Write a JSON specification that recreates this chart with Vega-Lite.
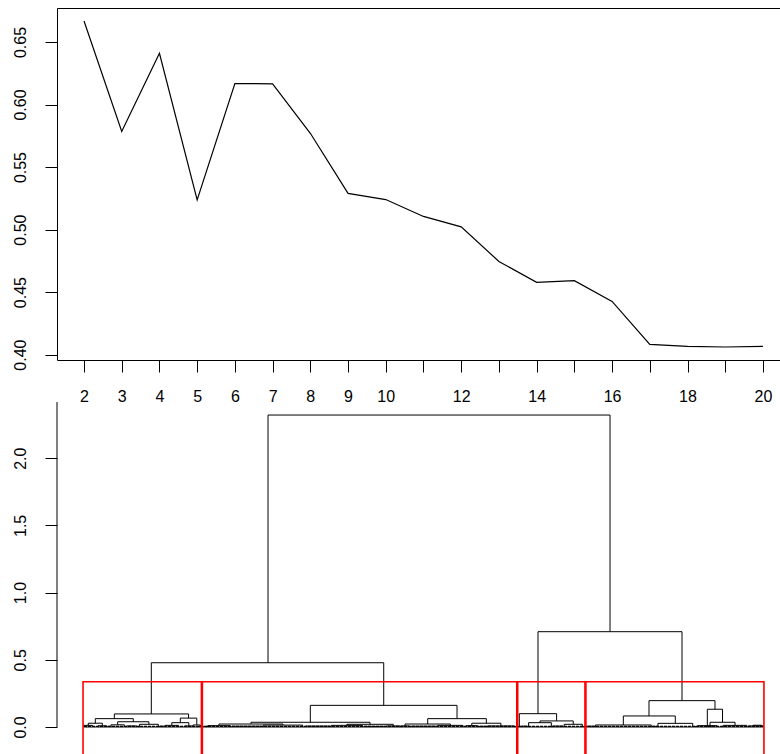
{
 "$schema": "https://vega.github.io/schema/vega-lite/v6.json",
 "padding": {"left": 12, "top": 8, "right": 0, "bottom": 0},
 "spacing": 42,
 "bounds": "flush",
 "config": {
  "view": {"stroke": null},
  "axis": {"labelFont": "Liberation Sans", "labelFontSize": 16, "labelColor": "#000", "tickColor": "#000", "domainColor": "#000", "tickSize": 12, "grid": false, "title": null, "tickWidth": 1, "domainWidth": 1}
 },
 "datasets": {
  "sil": [
   {"k": 2, "silhouette": 0.6668}, {"k": 3, "silhouette": 0.5784}, {"k": 4, "silhouette": 0.641},
   {"k": 5, "silhouette": 0.5238}, {"k": 6, "silhouette": 0.6167}, {"k": 7, "silhouette": 0.6166},
   {"k": 8, "silhouette": 0.577}, {"k": 9, "silhouette": 0.5289}, {"k": 10, "silhouette": 0.524},
   {"k": 11, "silhouette": 0.5105}, {"k": 12, "silhouette": 0.5022}, {"k": 13, "silhouette": 0.4745},
   {"k": 14, "silhouette": 0.4578}, {"k": 15, "silhouette": 0.4591}, {"k": 16, "silhouette": 0.4426},
   {"k": 17, "silhouette": 0.4082}, {"k": 18, "silhouette": 0.4066}, {"k": 19, "silhouette": 0.4061},
   {"k": 20, "silhouette": 0.4066}
  ],
  "merges": [
   {"xl": 65.77, "xr": 186.15, "h": 2.321, "hl": 0.478, "hr": 0.709},
   {"xl": 24.69, "xr": 106.5, "h": 0.478, "hl": 0.097, "hr": 0.161},
   {"xl": 160.8, "xr": 211.49, "h": 0.709, "hl": 0.099, "hr": 0.196},
   {"xl": 11.67, "xr": 37.8, "h": 0.097, "hl": 0.062, "hr": 0.066},
   {"xl": 4.98, "xr": 18.35, "h": 0.062, "hl": 0.028, "hr": 0.039},
   {"xl": 2.5, "xr": 7.46, "h": 0.028, "hl": 0.012, "hr": 0.009},
   {"xl": 12.86, "xr": 23.84, "h": 0.039, "hl": 0.016, "hr": 0.02},
   {"xl": 34.9, "xr": 40.7, "h": 0.066, "hl": 0.032, "hr": 0.015},
   {"xl": 31.9, "xr": 37.9, "h": 0.032, "hl": 0.012, "hr": 0.008},
   {"xl": 39.4, "xr": 42.0, "h": 0.015, "hl": 0, "hr": 0.008},
   {"xl": 1, "xr": 4, "h": 0.012, "hl": 0, "hr": 0},
   {"xl": 5.92, "xr": 9, "h": 0.009, "hl": 0, "hr": 0},
   {"xl": 9.4, "xr": 10.2, "h": 0.005, "hl": 0, "hr": 0},
   {"xl": 10.5, "xr": 15.22, "h": 0.016, "hl": 0, "hr": 0},
   {"xl": 16, "xr": 19.5, "h": 0.008, "hl": 0, "hr": 0},
   {"xl": 20.5, "xr": 27.18, "h": 0.02, "hl": 0, "hr": 0},
   {"xl": 27.6, "xr": 29.2, "h": 0.006, "hl": 0, "hr": 0},
   {"xl": 29.5, "xr": 34.3, "h": 0.012, "hl": 0, "hr": 0},
   {"xl": 36.5, "xr": 39.3, "h": 0.008, "hl": 0, "hr": 0},
   {"xl": 41.6, "xr": 42.3, "h": 0.008, "hl": 0, "hr": 0},
   {"xl": 80.66, "xr": 132.3, "h": 0.161, "hl": 0.035, "hr": 0.062},
   {"xl": 59.78, "xr": 101.67, "h": 0.035, "hl": 0.022, "hr": 0.02},
   {"xl": 48.5, "xr": 71.06, "h": 0.022, "hl": 0.01, "hr": 0.014},
   {"xl": 93.5, "xr": 109.84, "h": 0.02, "hl": 0.012, "hr": 0.008},
   {"xl": 121.98, "xr": 142.62, "h": 0.062, "hl": 0.022, "hr": 0.028},
   {"xl": 114.0, "xr": 129.96, "h": 0.022, "hl": 0.008, "hr": 0.012},
   {"xl": 137.5, "xr": 147.74, "h": 0.028, "hl": 0.01, "hr": 0.008},
   {"xl": 43, "xr": 44.3, "h": 0.004, "hl": 0, "hr": 0},
   {"xl": 44.5, "xr": 52.5, "h": 0.01, "hl": 0, "hr": 0},
   {"xl": 53, "xr": 63.5, "h": 0.006, "hl": 0, "hr": 0},
   {"xl": 64.12, "xr": 78, "h": 0.014, "hl": 0, "hr": 0},
   {"xl": 79, "xr": 87.5, "h": 0.007, "hl": 0, "hr": 0},
   {"xl": 88, "xr": 99, "h": 0.012, "hl": 0, "hr": 0},
   {"xl": 99.5, "xr": 107, "h": 0.005, "hl": 0, "hr": 0},
   {"xl": 107.5, "xr": 112.18, "h": 0.008, "hl": 0, "hr": 0},
   {"xl": 112.5, "xr": 115.5, "h": 0.008, "hl": 0, "hr": 0},
   {"xl": 116, "xr": 125, "h": 0.006, "hl": 0, "hr": 0},
   {"xl": 125.5, "xr": 134.42, "h": 0.012, "hl": 0, "hr": 0},
   {"xl": 135.5, "xr": 139.5, "h": 0.01, "hl": 0, "hr": 0},
   {"xl": 139.8, "xr": 142.8, "h": 0.005, "hl": 0, "hr": 0},
   {"xl": 143, "xr": 152.48, "h": 0.008, "hl": 0, "hr": 0},
   {"xl": 152.8, "xr": 153.3, "h": 0.004, "hl": 0, "hr": 0},
   {"xl": 154.22, "xr": 167.35, "h": 0.099, "hl": 0.004, "hr": 0.045},
   {"xl": 161.5, "xr": 173.2, "h": 0.045, "hl": 0.032, "hr": 0.02},
   {"xl": 153.8, "xr": 154.64, "h": 0.004, "hl": 0, "hr": 0},
   {"xl": 155, "xr": 157.2, "h": 0.006, "hl": 0, "hr": 0},
   {"xl": 157.5, "xr": 165.5, "h": 0.032, "hl": 0, "hr": 0},
   {"xl": 166, "xr": 169.6, "h": 0.007, "hl": 0, "hr": 0},
   {"xl": 170, "xr": 176.4, "h": 0.02, "hl": 0, "hr": 0},
   {"xl": 176.7, "xr": 177.2, "h": 0.004, "hl": 0, "hr": 0},
   {"xl": 199.87, "xr": 223.1, "h": 0.196, "hl": 0.082, "hr": 0.132},
   {"xl": 190.83, "xr": 209.13, "h": 0.082, "hl": 0.015, "hr": 0.027},
   {"xl": 220.4, "xr": 225.75, "h": 0.132, "hl": 0.01, "hr": 0.035},
   {"xl": 221.35, "xr": 230.15, "h": 0.035, "hl": 0.006, "hr": 0.012},
   {"xl": 178, "xr": 180.5, "h": 0.006, "hl": 0, "hr": 0},
   {"xl": 181, "xr": 200.66, "h": 0.015, "hl": 0, "hr": 0},
   {"xl": 201, "xr": 202.6, "h": 0.005, "hl": 0, "hr": 0},
   {"xl": 203, "xr": 215.26, "h": 0.027, "hl": 0, "hr": 0},
   {"xl": 215.8, "xr": 216.8, "h": 0.004, "hl": 0, "hr": 0},
   {"xl": 217, "xr": 223.8, "h": 0.01, "hl": 0, "hr": 0},
   {"xl": 220.5, "xr": 222.2, "h": 0.006, "hl": 0, "hr": 0},
   {"xl": 226, "xr": 234.3, "h": 0.012, "hl": 0, "hr": 0},
   {"xl": 234.8, "xr": 240, "h": 0.008, "hl": 0, "hr": 0},
   {"xl": 236.5, "xr": 239.5, "h": 0.013, "hl": 0, "hr": 0}
  ],
  "leaves": [
   {"from": 1, "to": 240, "h": 0.005, "dash": "a"},
   {"from": 1, "to": 240, "h": 0.0, "dash": "b"}
  ],
  "clusters": [
   {"left": 0.66, "right": 42.33, "low": -0.5, "high": 0.337},
   {"left": 42.66, "right": 153.33, "low": -0.5, "high": 0.337},
   {"left": 153.66, "right": 177.33, "low": -0.5, "high": 0.337},
   {"left": 177.66, "right": 240.33, "low": -0.5, "high": 0.337}
  ],
  "axisline": [{"from": 0, "to": 2.418}]
 },
 "vconcat": [
  {
   "width": 723, "height": 352,
   "data": {"name": "sil"},
   "layer": [
    {
     "mark": {"type": "line", "color": "#000", "strokeWidth": 1.2},
     "encoding": {
      "x": {"field": "k", "type": "quantitative",
            "scale": {"domain": [1.284, 20.452], "nice": false, "zero": false},
            "axis": {"orient": "bottom", "values": [2,3,4,5,6,7,8,9,10,11,12,13,14,15,16,17,18,19,20],
                     "labelExpr": "indexof([11,13,15,17,19], datum.value) >= 0 ? '' : datum.label",
                     "labelAngle": 0, "labelPadding": 16, "labelFlush": false, "labelOverlap": false}},
      "y": {"field": "silhouette", "type": "quantitative",
            "scale": {"domain": [0.3957, 0.6772], "nice": false, "zero": false},
            "axis": {"values": [0.4, 0.45, 0.5, 0.55, 0.6, 0.65], "format": ".2f",
                     "labelAngle": -90, "labelAlign": "center", "labelBaseline": "bottom",
                     "labelPadding": 17, "labelFlush": false, "labelOverlap": false}}
     }
    },
    {
     "mark": {"type": "line", "opacity": 0},
     "encoding": {
      "x": {"field": "k", "type": "quantitative",
            "axis": {"orient": "top", "labels": false, "ticks": false}},
      "y": {"field": "silhouette", "type": "quantitative"}
     }
    }
   ],
   "resolve": {"axis": {"x": "independent"}}
  },
  {
   "width": 723, "height": 352,
   "layer": [
    {
     "data": {"name": "merges"},
     "mark": {"type": "rule", "color": "#000", "strokeWidth": 1},
     "encoding": {
      "x": {"field": "xl", "type": "quantitative",
            "scale": {"domain": [-8.504, 245.98], "nice": false, "zero": false}, "axis": null},
      "x2": {"field": "xr"},
      "y": {"field": "h", "type": "quantitative",
            "scale": {"domain": [-0.201, 2.418], "nice": false, "zero": false},
            "axis": {"values": [0, 0.5, 1, 1.5, 2], "format": ".1f", "domain": false,
                     "labelAngle": -90, "labelAlign": "center", "labelBaseline": "bottom",
                     "labelPadding": 17, "labelFlush": false, "labelOverlap": false}}
     }
    },
    {
     "data": {"name": "merges"},
     "mark": {"type": "rule", "color": "#000", "strokeWidth": 1},
     "encoding": {
      "x": {"field": "xl", "type": "quantitative"},
      "y": {"field": "hl", "type": "quantitative"},
      "y2": {"field": "h"}
     }
    },
    {
     "data": {"name": "merges"},
     "mark": {"type": "rule", "color": "#000", "strokeWidth": 1},
     "encoding": {
      "x": {"field": "xr", "type": "quantitative"},
      "y": {"field": "hr", "type": "quantitative"},
      "y2": {"field": "h"}
     }
    },
    {
     "data": {"name": "leaves"},
     "mark": {"type": "rule", "color": "#000", "strokeWidth": 1.2},
     "encoding": {
      "x": {"field": "from", "type": "quantitative"},
      "x2": {"field": "to"},
      "y": {"field": "h", "type": "quantitative"},
      "strokeDash": {"field": "dash", "type": "nominal", "legend": null,
                     "scale": {"domain": ["a", "b"], "range": [[3, 1], [1, 0]]}}
     }
    },
    {
     "data": {"name": "clusters"},
     "mark": {"type": "rect", "filled": false, "stroke": "#ff0000", "strokeWidth": 1.6, "clip": true},
     "encoding": {
      "x": {"field": "left", "type": "quantitative"},
      "x2": {"field": "right"},
      "y": {"field": "low", "type": "quantitative"},
      "y2": {"field": "high"}
     }
    },
    {
     "data": {"name": "axisline"},
     "mark": {"type": "rule", "color": "#000", "strokeWidth": 1},
     "encoding": {
      "x": {"datum": -8.504, "type": "quantitative"},
      "y": {"field": "from", "type": "quantitative"},
      "y2": {"field": "to"}
     }
    }
   ]
  }
 ]
}
